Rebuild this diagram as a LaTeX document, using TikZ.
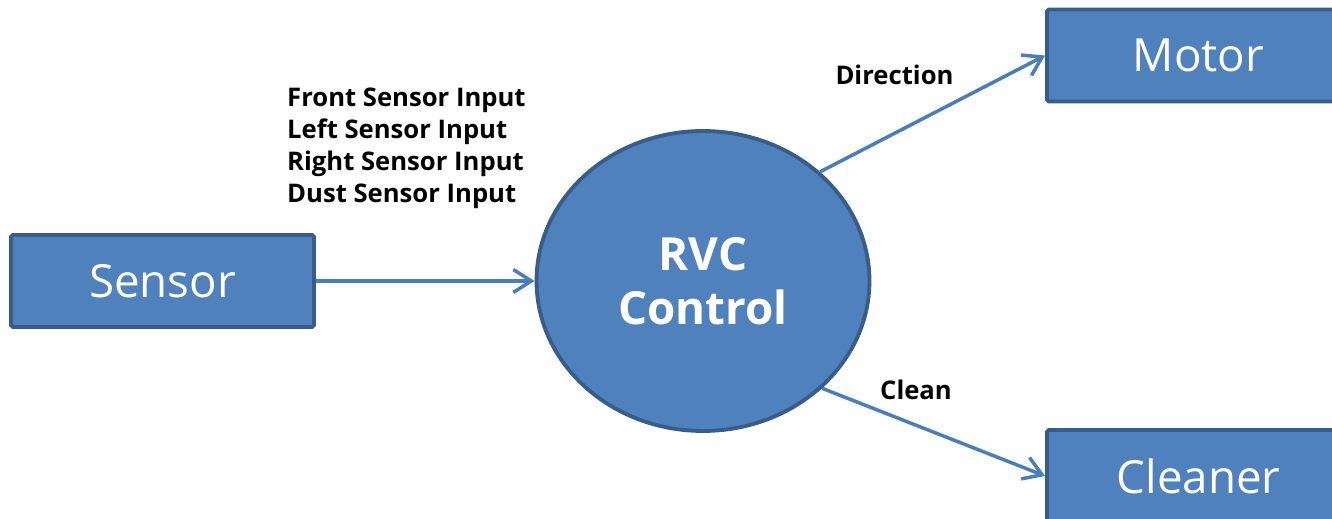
\documentclass[tikz,border=0pt]{standalone}
\usepackage{fontspec}
\setmainfont{Open Sans}
\usepackage{tikz}
\usetikzlibrary{arrows.meta,shapes.geometric}
\definecolor{blockfill}{HTML}{4F81BD}
\definecolor{blockline}{HTML}{385D8A}
\definecolor{flowline}{HTML}{4A7EBB}
\begin{document}
\begin{tikzpicture}[x=0.02cm, y=-0.02cm,
	block/.style={draw=blockline, fill=blockfill, line width=2.2pt, rounded corners=1pt, minimum width=6.06cm, minimum height=1.84cm, text=white, font=\fontsize{26}{30}\selectfont},
	flow/.style={draw=flowline, line width=2pt, -{Straight Barb[length=3.6mm,width=4.6mm]}},
	lbl/.style={font=\bfseries\fontsize{14.6}{18.2}\selectfont, align=left}]
		\useasboundingbox (0,0) rectangle (1332,519);
		\node[block] (sensor) at (162.5,281) {Sensor};
		
		\node[block] (motor) at (1198.5,55.5) {Motor};
		
		\node[block] (cleaner) at (1198.5,476) {Cleaner};
		
		\node[draw=blockline, fill=blockfill, line width=2.2pt, ellipse, minimum width=6.66cm, minimum height=6cm, text=white, align=center, font=\bfseries\fontsize{26}{31}\selectfont] (ctrl) at (703,281) {RVC\\Control};
		
		\node[lbl, anchor=west] (inputs) at (281,148) {Front Sensor Input\\Left Sensor Input\\Right Sensor Input\\Dust Sensor Input};
		\node[lbl] (dir) at (894.5,75) {Direction};
		\node[lbl] (clean) at (916,390) {Clean};
		
		\draw[flow] (sensor) -- (ctrl);
		\draw[flow] (ctrl.43) -- (motor.west);
		\draw[flow] (ctrl.-42) -- (cleaner.west);
		
		\end{tikzpicture}
\end{document}
